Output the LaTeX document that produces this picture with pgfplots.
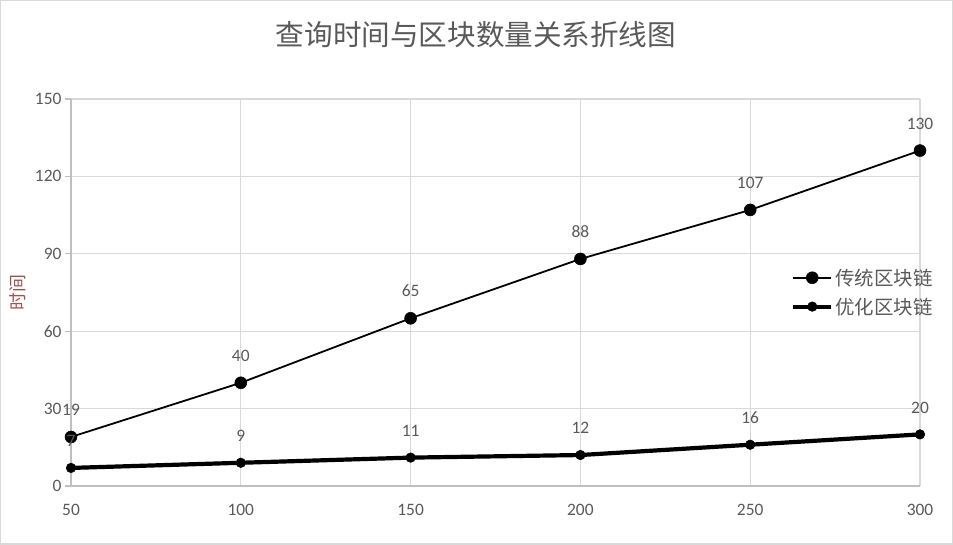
\documentclass[border=0pt]{standalone}
\usepackage{pgfplots}
\pgfplotsset{compat=1.18}
\usepackage{fontspec}
\setmainfont{Carlito}
\newfontfamily\cjk{Noto Sans CJK SC}
\definecolor{txt}{HTML}{595959}
\definecolor{gridc}{HTML}{D9D9D9}
\definecolor{axc}{HTML}{BFBFBF}
\definecolor{ylab}{HTML}{A0524D}
\begin{document}
\begin{tikzpicture}[x=1bp,y=1bp]
\draw[draw=gridc, line width=1.5bp] (0.75,0.75) rectangle (952.25,544.25);
\node[font=\cjk\fontsize{28.7}{31}\selectfont, text=txt] at (476,510) {查询时间与区块数量关系折线图};
\begin{axis}[
  /pgf/number format/assume math mode=true,
  at={(71bp,59bp)}, anchor=south west, scale only axis,
  width=849bp, height=387bp,
  xmin=50, xmax=300, ymin=0, ymax=150,
  xtick={50,100,...,300}, ytick={0,30,...,150},
  grid=major, major grid style={gridc, line width=1.2bp},
  axis lines=left, axis line style={axc, line width=1.4bp, -},
  tick align=outside, major tick length=6bp,
  xtick style={draw=none}, ytick style={axc, line width=1.2bp},
  tick label style={font=\fontsize{17.5}{20}\selectfont, text=txt},
  xticklabel style={yshift=-9bp},
  ylabel={\cjk 时间},
  every axis y label/.style={at={(axis description cs:0,0.5)}, xshift=-53bp, rotate=90, anchor=center, font=\cjk\fontsize{18}{20}\selectfont, text=ylab},
  clip=false,
  legend style={at={(axis description cs:0.8445,0.572)}, anchor=north west, draw=none, fill=none,
    font=\cjk\fontsize{19.5}{22}\selectfont, text=txt, row sep=7bp},
  legend cell align=left,
  legend image code/.code={\draw[mark repeat=2, mark phase=2] plot coordinates {(0bp,0bp)(19bp,0bp)(38bp,0bp)};},
  nodes near coords,
  every node near coord/.append style={font=\fontsize{17.5}{20}\selectfont, text=txt, inner sep=0pt, yshift=21bp},
]
\addplot[black, line width=1.8bp, mark=*, mark size=6bp, mark options={solid, fill=black, line width=0.5bp}]
  coordinates {(50,19)(100,40)(150,65)(200,88)(250,107)(300,130)};
\addlegendentry{传统区块链}
\addplot[black, line width=4.2bp, mark=*, mark size=4.8bp, mark options={solid, fill=black, line width=0.5bp}]
  coordinates {(50,7)(100,9)(150,11)(200,12)(250,16)(300,20)};
\addlegendentry{优化区块链}
\end{axis}
\end{tikzpicture}
\end{document}
